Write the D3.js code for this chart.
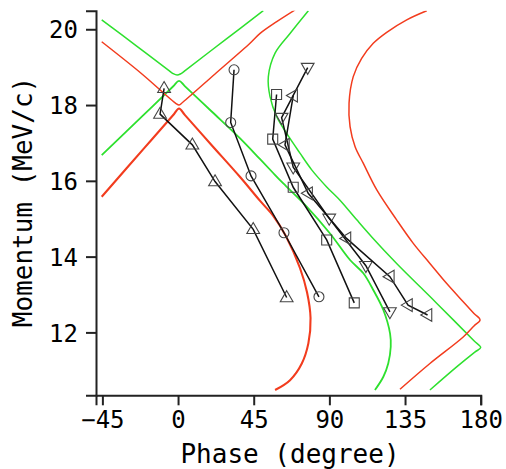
<!DOCTYPE html>
<html>
<head>
<meta charset="utf-8">
<script src="https://cdn.jsdelivr.net/npm/d3@7"></script>
<style>
  html, body { margin: 0; padding: 0; background: #fff; }
  svg { display: block; }
  text { font-family: "DejaVu Sans Mono", monospace; fill: #000; }
</style>
</head>
<body>
<svg id="chart" width="506" height="469"></svg>
<script>
// Axis ticks
const phaseTicks = [-45, 0, 45, 90, 135, 180];
const momentumTicks = [12, 14, 16, 18, 20];

// Calculated branches (phase in degrees, momentum in MeV/c)
const greenUpperPhase = [-45.4, -25, -5.95, -2.97, -0.59, 1.78, 4.76, 28, 50.7];
const greenUpperMom   = [20.25, 19.57, 18.93, 18.83, 18.79, 18.83, 18.93, 19.72, 20.49];

const greenInnerPhase = [-45.4, -20, -3, 0.59, 4, 20, 36.9, 48.8, 56.7, 62.6, 76.5, 90.4, 102.3, 110.2, 116.1, 122.1, 126.1, 126.5, 125.0, 122.1, 117.1];
const greenInnerMom   = [16.68, 17.76, 18.49, 18.64, 18.50, 17.83, 17.12, 16.57, 16.20, 15.93, 15.32, 14.61, 13.91, 13.56, 13.12, 12.59, 11.97, 11.62, 11.18, 10.83, 10.48];

const greenOuterPhase = [77.5, 66.6, 57.7, 53.7, 54.7, 58.7, 64.6, 72.5, 79.5, 88.4, 96.3, 106.3, 115.2, 130.0, 145.9, 153.8, 163.7, 176.0, 180.0, 176.5, 165.7, 149.8];
const greenOuterMom   = [20.49, 19.89, 19.37, 18.75, 18.22, 17.69, 17.25, 16.73, 16.29, 15.84, 15.49, 14.97, 14.52, 13.82, 13.12, 12.77, 12.33, 11.78, 11.60, 11.48, 11.09, 10.48];

const redUpperPhase = [-45.4, -22, -1.19, 0.59, 2.97, 22, 42.8, 48.8, 58.7, 69.6];
const redUpperMom   = [19.67, 18.84, 18.04, 18.00, 18.08, 18.82, 19.63, 19.89, 20.20, 20.51];

const redInnerPhase = [-45.4, -20, -3, 0.59, 4, 20, 36.9, 48.8, 56.7, 64.2, 72.5, 76.7, 78.8, 77.5, 73.6, 66.6, 57.7];
const redInnerMom   = [15.58, 16.87, 17.73, 17.91, 17.74, 16.94, 16.10, 15.47, 15.07, 14.54, 13.70, 13.06, 12.38, 11.71, 11.18, 10.74, 10.48];

const redOuterPhase = [147.9, 136.0, 124.1, 116.1, 109.2, 104.2, 101.7, 102.3, 105.3, 110.2, 118.2, 130.0, 139.9, 149.8, 159.8, 169.6, 176.0, 179.6, 176.0, 169.6, 149.8, 132.0];
const redOuterMom   = [20.49, 20.25, 19.92, 19.63, 19.23, 18.75, 18.05, 17.43, 16.90, 16.46, 15.76, 14.97, 14.35, 13.82, 13.29, 12.81, 12.50, 12.33, 12.17, 11.88, 11.18, 10.50];

// Measured series
const triUpPhase   = [-8.3, -10.7, 8.5, 22.0, 44.7, 64.6];
const triUpMom     = [18.44, 17.76, 16.95, 15.98, 14.72, 12.92];
const circlePhase  = [33.3, 31.3, 43.4, 63.0, 83.8];
const circleMom    = [18.93, 17.54, 16.13, 14.63, 12.94];
const squarePhase  = [58.6, 56.3, 68.5, 88.4, 104.8];
const squareMom    = [18.28, 17.10, 15.83, 14.44, 12.78];
const triDownPhase = [77.1, 61.6, 68.5, 89.9, 111.7, 126.0];
const triDownMom   = [18.99, 17.67, 16.36, 15.01, 13.76, 12.54];
const triLeftPhase = [68.5, 63.6, 77.4, 100.2, 126.0, 136.8, 148.4];
const triLeftMom   = [18.25, 16.95, 15.67, 14.48, 13.47, 12.72, 12.46];

const svg = d3.select("#chart");

const x = d3.scaleLinear().domain([-48.8, 180]).range([96, 480.7]);
const y = d3.scaleLinear().domain([10.34, 20.49]).range([395.3, 10.7]);

const zip = (ps, ms) => ps.map((p, i) => [p, ms[i]]);
const line = d3.line().x(d => x(d[0])).y(d => y(d[1]));
const smooth = d3.line().x(d => x(d[0])).y(d => y(d[1])).curve(d3.curveCatmullRom.alpha(0.5));

svg.append("clipPath").attr("id", "plot-area")
  .append("rect").attr("x", 96).attr("y", 10.7).attr("width", 390).attr("height", 384.6);

const plot = svg.append("g").attr("clip-path", "url(#plot-area)");

const GREEN = "#2ee02e", RED = "#f23c1e";
const curves = [
  { data: zip(greenUpperPhase, greenUpperMom), color: GREEN, width: 1.5 },
  { data: zip(greenInnerPhase, greenInnerMom), color: GREEN, width: 1.8 },
  { data: zip(greenOuterPhase, greenOuterMom), color: GREEN, width: 1.5 },
  { data: zip(redUpperPhase, redUpperMom), color: RED, width: 1.5 },
  { data: zip(redInnerPhase, redInnerMom), color: RED, width: 2.1 },
  { data: zip(redOuterPhase, redOuterMom), color: RED, width: 1.5 }
];

plot.selectAll("path.curve").data(curves).join("path")
  .attr("class", "curve")
  .attr("d", d => smooth(d.data))
  .attr("fill", "none")
  .attr("stroke", d => d.color)
  .attr("stroke-width", d => d.width)
  .attr("stroke-linejoin", "round");

// Marker symbols
const triangle = (s, rot) => {
  const pts = [[0, -s * 0.62], [s * 0.58, s * 0.38], [-s * 0.58, s * 0.38]];
  const a = rot * Math.PI / 180;
  return "M" + pts.map(([px, py]) => [px * Math.cos(a) - py * Math.sin(a), px * Math.sin(a) + py * Math.cos(a)].map(v => v.toFixed(2)).join(",")).join("L") + "Z";
};
const markers = {
  up: triangle(11, 0),
  down: triangle(11, 180),
  left: triangle(11, -90),
  square: "M-5,-5H5V5H-5Z",
  circle: d3.arc()({ innerRadius: 0, outerRadius: 5, startAngle: 0, endAngle: 2 * Math.PI })
};

const series = [
  { data: zip(triUpPhase, triUpMom), shape: "up" },
  { data: zip(circlePhase, circleMom), shape: "circle" },
  { data: zip(squarePhase, squareMom), shape: "square" },
  { data: zip(triDownPhase, triDownMom), shape: "down" },
  { data: zip(triLeftPhase, triLeftMom), shape: "left" }
];

const sg = svg.append("g").selectAll("g").data(series).join("g");
sg.append("path")
  .attr("d", d => line(d.data))
  .attr("fill", "none")
  .attr("stroke", "#111")
  .attr("stroke-width", 1.5);
sg.selectAll("path.mk").data(d => d.data.map(p => ({ p, shape: d.shape }))).join("path")
  .attr("class", "mk")
  .attr("transform", d => `translate(${x(d.p[0])},${y(d.p[1])})`)
  .attr("d", d => markers[d.shape])
  .attr("fill", "none")
  .attr("stroke", "#444")
  .attr("stroke-width", 1.1);

// Axes
const fmt = d => d < 0 ? "\u2212" + Math.abs(d) : String(d);
const xAxis = svg.append("g").attr("transform", "translate(0,395.3)")
  .call(d3.axisBottom(x).tickValues(phaseTicks).tickFormat(fmt).tickSizeOuter(0).tickSize(10).tickPadding(6));
const yAxis = svg.append("g").attr("transform", "translate(96,0)")
  .call(d3.axisLeft(y).tickValues(momentumTicks).tickSizeOuter(0).tickSize(10).tickPadding(8));

[xAxis, yAxis].forEach(g => {
  g.select(".domain").attr("stroke", "#222").attr("stroke-width", 2);
  g.selectAll(".tick line").attr("stroke", "#222").attr("stroke-width", 2);
  g.selectAll(".tick text").style("font-family", "'DejaVu Sans Mono', monospace").style("font-size", "24px").attr("fill", "#000");
});
yAxis.selectAll(".tick text").attr("dy", "0.36em");

svg.append("text")
  .attr("x", 290).attr("y", 463)
  .attr("text-anchor", "middle")
  .style("font-size", "26px")
  .text("Phase (degree)");

svg.append("text")
  .attr("transform", "translate(32,202) rotate(-90)")
  .attr("text-anchor", "middle")
  .style("font-size", "26px")
  .text("Momentum (MeV/c)");
</script>
</body>
</html>
